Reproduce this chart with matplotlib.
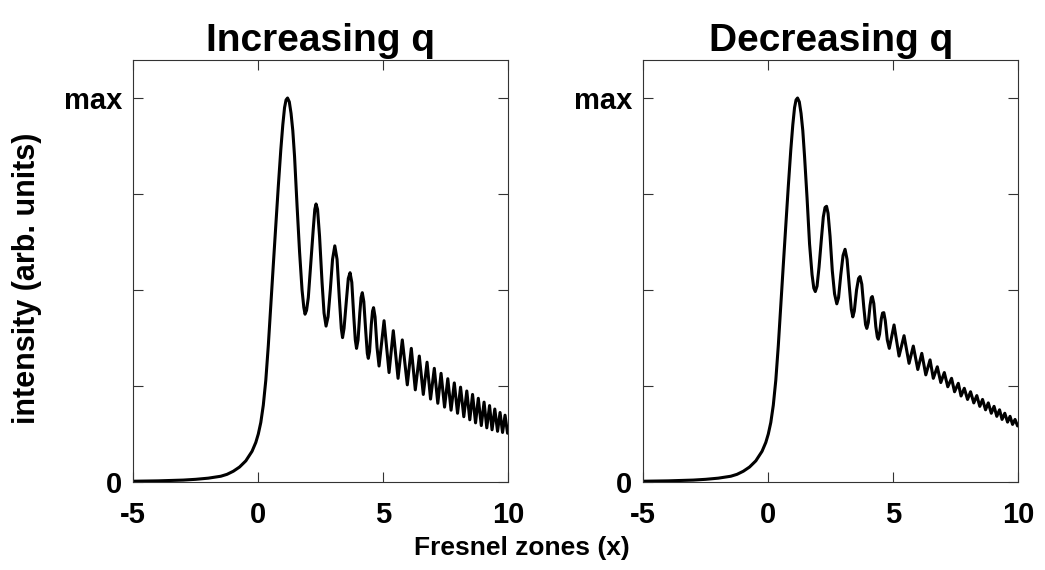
import matplotlib
matplotlib.use('Agg')
import matplotlib.pyplot as plt

plt.rcParams['font.family'] = ['Liberation Sans', 'DejaVu Sans']
plt.rcParams['font.weight'] = 'bold'

# ---- data (y normalised so that max = 1) ----
# rising edge and main peak (shared by both panels)
x_rise = [-5.0, -4.0, -3.0, -2.5, -2.0, -1.5, -1.25, -1.0, -0.75, -0.5, -0.25, -0.1, 0.0,
          0.1, 0.2, 0.3, 0.4, 0.5, 0.6, 0.7, 0.8, 0.9, 0.98, 1.05, 1.11, 1.17, 1.24, 1.31,
          1.38, 1.45]
y_rise = [0.002, 0.003, 0.005, 0.007, 0.010, 0.015, 0.020, 0.028, 0.039, 0.055, 0.080, 0.103, 0.125,
          0.155, 0.20, 0.265, 0.355, 0.46, 0.565, 0.668, 0.77, 0.865, 0.93, 0.975, 0.995, 1.0, 0.99, 0.96,
          0.915, 0.848]

# oscillating tail, "Increasing q"
x_inc_tail = [1.55, 1.65, 1.75, 1.82, 1.87, 1.93, 2.0, 2.1, 2.2, 2.26,
              2.31, 2.37, 2.45, 2.55, 2.63, 2.71, 2.79, 2.88, 2.97, 3.06,
              3.15, 3.24, 3.32, 3.37, 3.43, 3.52, 3.60, 3.67, 3.74, 3.82,
              3.88, 3.93, 3.99, 4.06, 4.11, 4.16, 4.22, 4.30, 4.36, 4.40,
              4.45, 4.52, 4.57, 4.61, 4.67, 4.75, 4.83, 5.03, 5.23, 5.40,
              5.59, 5.76, 5.96, 6.12, 6.28, 6.44, 6.60, 6.75, 6.89, 7.04,
              7.18, 7.31, 7.45, 7.58, 7.71, 7.84, 7.97, 8.09, 8.22, 8.34,
              8.46, 8.57, 8.69, 8.80, 8.92, 9.03, 9.14, 9.25, 9.35, 9.46,
              9.57, 9.67, 9.77, 9.87, 9.97, 10.0]
y_inc_tail = [0.72, 0.60, 0.50, 0.455, 0.437, 0.447, 0.48, 0.57, 0.66, 0.71,
              0.724, 0.71, 0.64, 0.52, 0.44, 0.406, 0.43, 0.50, 0.58, 0.615,
              0.58, 0.48, 0.40, 0.376, 0.40, 0.47, 0.53, 0.545, 0.52, 0.43,
              0.37, 0.348, 0.37, 0.44, 0.48, 0.493, 0.47, 0.39, 0.335, 0.322,
              0.34, 0.41, 0.445, 0.454, 0.43, 0.35, 0.302, 0.42, 0.285, 0.394,
              0.270, 0.370, 0.253, 0.348, 0.240, 0.328, 0.228, 0.312, 0.216, 0.296,
              0.205, 0.283, 0.195, 0.269, 0.187, 0.258, 0.179, 0.247, 0.170, 0.237,
              0.162, 0.228, 0.154, 0.218, 0.147, 0.208, 0.141, 0.199, 0.136, 0.190,
              0.132, 0.181, 0.129, 0.174, 0.127, 0.131]

# oscillating tail, "Decreasing q"
x_dec_tail = [1.55, 1.65, 1.75, 1.82, 1.88, 1.95, 2.03, 2.12, 2.20, 2.27,
              2.33, 2.39, 2.47, 2.56, 2.65, 2.74, 2.81, 2.90, 2.99, 3.07,
              3.15, 3.24, 3.32, 3.38, 3.44, 3.53, 3.61, 3.67, 3.74, 3.82,
              3.89, 3.94, 4.00, 4.07, 4.12, 4.16, 4.22, 4.30, 4.36, 4.40,
              4.45, 4.52, 4.57, 4.62, 4.68, 4.76, 4.84, 5.03, 5.23, 5.43,
              5.63, 5.80, 5.98, 6.14, 6.30, 6.47, 6.60, 6.76, 6.90, 7.04,
              7.18, 7.33, 7.45, 7.60, 7.71, 7.84, 7.97, 8.09, 8.22, 8.34,
              8.46, 8.57, 8.69, 8.80, 8.92, 9.03, 9.14, 9.25, 9.35, 9.46,
              9.57, 9.67, 9.77, 9.87, 9.97, 10.0]
y_dec_tail = [0.74, 0.62, 0.54, 0.505, 0.496, 0.51, 0.56, 0.63, 0.69, 0.715,
              0.718, 0.70, 0.64, 0.55, 0.49, 0.464, 0.48, 0.54, 0.59, 0.606,
              0.58, 0.51, 0.45, 0.43, 0.445, 0.50, 0.53, 0.535, 0.515, 0.455,
              0.41, 0.40, 0.415, 0.46, 0.48, 0.483, 0.465, 0.405, 0.378, 0.372,
              0.385, 0.425, 0.44, 0.441, 0.42, 0.37, 0.348, 0.409, 0.328, 0.381,
              0.309, 0.354, 0.293, 0.335, 0.279, 0.318, 0.270, 0.300, 0.259, 0.285,
              0.248, 0.270, 0.235, 0.257, 0.224, 0.244, 0.215, 0.235, 0.206, 0.225,
              0.197, 0.215, 0.188, 0.206, 0.179, 0.197, 0.171, 0.188, 0.163, 0.179,
              0.156, 0.171, 0.150, 0.163, 0.146, 0.147]

titles = ['Increasing q', 'Decreasing q']
xticks = [-5, 0, 5, 10]
xtick_labels = ['-5', '0', '5', '10']
yticks = [0, 0.25, 0.5, 0.75, 1.0]
ytick_labels = ['0', '', '', '', 'max']
xlabel = 'Fresnel zones (x)'
ylabel = 'intensity (arb. units)'

series = [(x_rise + x_inc_tail, y_rise + y_inc_tail),
          (x_rise + x_dec_tail, y_rise + y_dec_tail)]

W, H = 1045, 570
fig = plt.figure(figsize=(W / 100, H / 100), dpi=100)

def add_ax(l, r, b, t):
    return fig.add_axes([l / W, 1 - b / H, (r - l) / W, (b - t) / H])

axes = [add_ax(133.3, 508.3, 482, 59.6), add_ax(643.3, 1018.3, 482, 59.6)]

for ax, (xs, ys), title in zip(axes, series, titles):
    ax.plot(xs, ys, color='black', lw=2.2, solid_joinstyle='round')
    ax.set_xlim(-5, 10)
    ax.set_ylim(0, 1.1)
    ax.set_xticks(xticks)
    ax.set_xticklabels(xtick_labels)
    ax.set_yticks(yticks)
    ax.set_yticklabels(ytick_labels)
    ax.tick_params(direction='in', length=7, width=0.8, color='#333333',
                   top=True, right=True, labelsize=21)
    ax.tick_params(axis='x', pad=14)
    ax.tick_params(axis='y', pad=8)
    for s in ax.spines.values():
        s.set_color('#333333')
        s.set_linewidth(0.8)
    ax.set_title(title, fontsize=28, fontweight='bold', pad=6)

fig.text(522 / W, 1 - 548 / H, xlabel, ha='center', va='center', fontsize=19, fontweight='bold')
fig.text(27 / W, 1 - 278 / H, ylabel, ha='center', va='center', rotation=90,
         fontsize=22, fontweight='bold')

fig.savefig('out.png', dpi=100)
